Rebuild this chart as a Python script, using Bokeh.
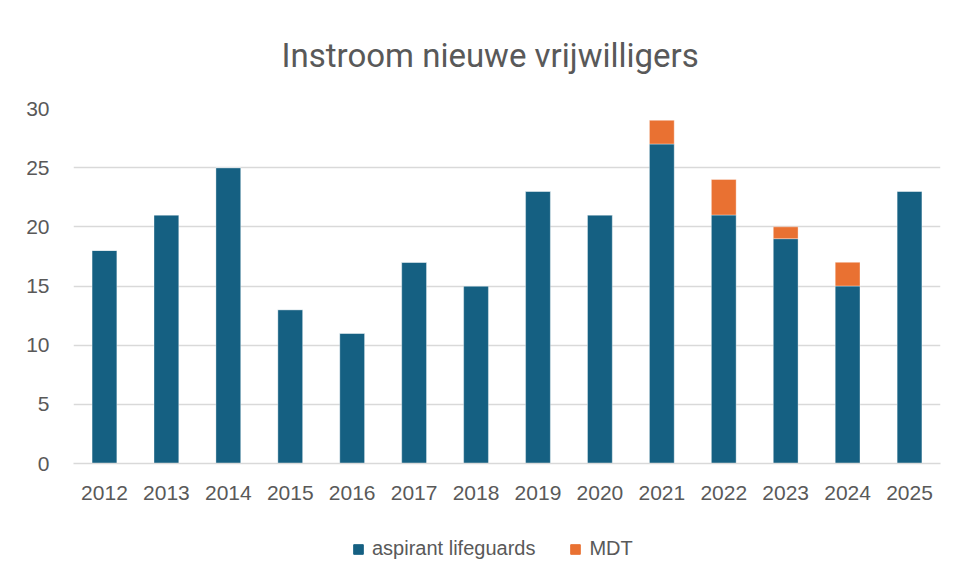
from bokeh.plotting import figure
from bokeh.layouts import column
from bokeh.models import (ColumnDataSource, FactorRange, Range1d, Legend, LegendItem,
                          SingleIntervalTicker, Title)
from bokeh.embed import file_html
from bokeh.resources import INLINE

years = ["2012", "2013", "2014", "2015", "2016", "2017", "2018", "2019", "2020",
         "2021", "2022", "2023", "2024", "2025"]
aspirant = [18, 21, 25, 13, 11, 17, 15, 23, 21, 27, 21, 19, 15, 23]
mdt = [0, 0, 0, 0, 0, 0, 0, 0, 0, 2, 3, 1, 2, 0]
series = ["aspirant lifeguards", "MDT"]
colors = ["#156082", "#E97132"]

src = ColumnDataSource(dict(year=years, aspirant=aspirant, mdt=mdt))

p = figure(x_range=FactorRange(*years, range_padding=0), y_range=Range1d(0, 30),
           width=948, height=520,
           min_border_left=73, min_border_right=8, min_border_top=108, min_border_bottom=57,
           output_backend="svg", toolbar_location=None, tools="",
           title="Instroom nieuwe vrijwilligers")

r = p.vbar_stack(["aspirant", "mdt"], x="year", width=0.4, source=src,
                 color=colors, line_color="white", line_width=0.6, line_alpha=0.6)

p.add_layout(Title(text=" ", text_font_size="24px", standoff=0), "above")

p.title.text_font = "Roboto"
p.title.text_font_size = "33px"
p.title.text_font_style = "normal"
p.title.text_color = "#595959"
p.title.align = "left"
p.title.offset = 208

p.outline_line_color = None
p.xgrid.grid_line_color = None
p.ygrid.grid_line_color = "#d9d9d9"
p.ygrid.grid_line_width = 1.5
p.yaxis.ticker = SingleIntervalTicker(interval=5)
p.yaxis.axis_line_color = None
p.yaxis.major_tick_line_color = None
p.yaxis.minor_tick_line_color = None
p.yaxis.major_label_standoff = 18
p.xaxis.axis_line_color = "#d9d9d9"
p.xaxis.axis_line_width = 1.5
p.xaxis.major_tick_line_color = None
p.xaxis.minor_tick_line_color = None
p.xaxis.major_label_standoff = 16
for ax in (p.xaxis[0], p.yaxis[0]):
    ax.major_label_text_font = "Liberation Sans"
    ax.major_label_text_font_size = "21px"
    ax.major_label_text_color = "#595959"

# legend strip below the chart: same series drawn out of view, only the legend shows
leg_src = ColumnDataSource(dict(i=list(range(len(years))), aspirant=aspirant, mdt=mdt))
leg = figure(width=948, height=51, x_range=Range1d(0, 1), y_range=Range1d(1000, 1001),
             min_border=0, output_backend="svg", toolbar_location=None, tools="",
             x_axis_location=None, y_axis_location=None)
leg.outline_line_color = None
leg.grid.grid_line_color = None
lr = leg.vbar_stack(["aspirant", "mdt"], x="i", width=0.4, source=leg_src, color=colors)
legend = Legend(items=[LegendItem(label=s, renderers=[g]) for s, g in zip(series, lr)],
                orientation="horizontal", location=(279, 11), margin=0, padding=8,
                label_text_font="Liberation Sans", label_text_font_size="20px",
                label_text_color="#595959", glyph_width=12, glyph_height=12,
                spacing=34, label_standoff=8, border_line_color=None,
                background_fill_alpha=0)
leg.add_layout(legend, "center")

layout = column(p, leg, spacing=0)
open("out.html", "w").write(file_html(layout, INLINE))
